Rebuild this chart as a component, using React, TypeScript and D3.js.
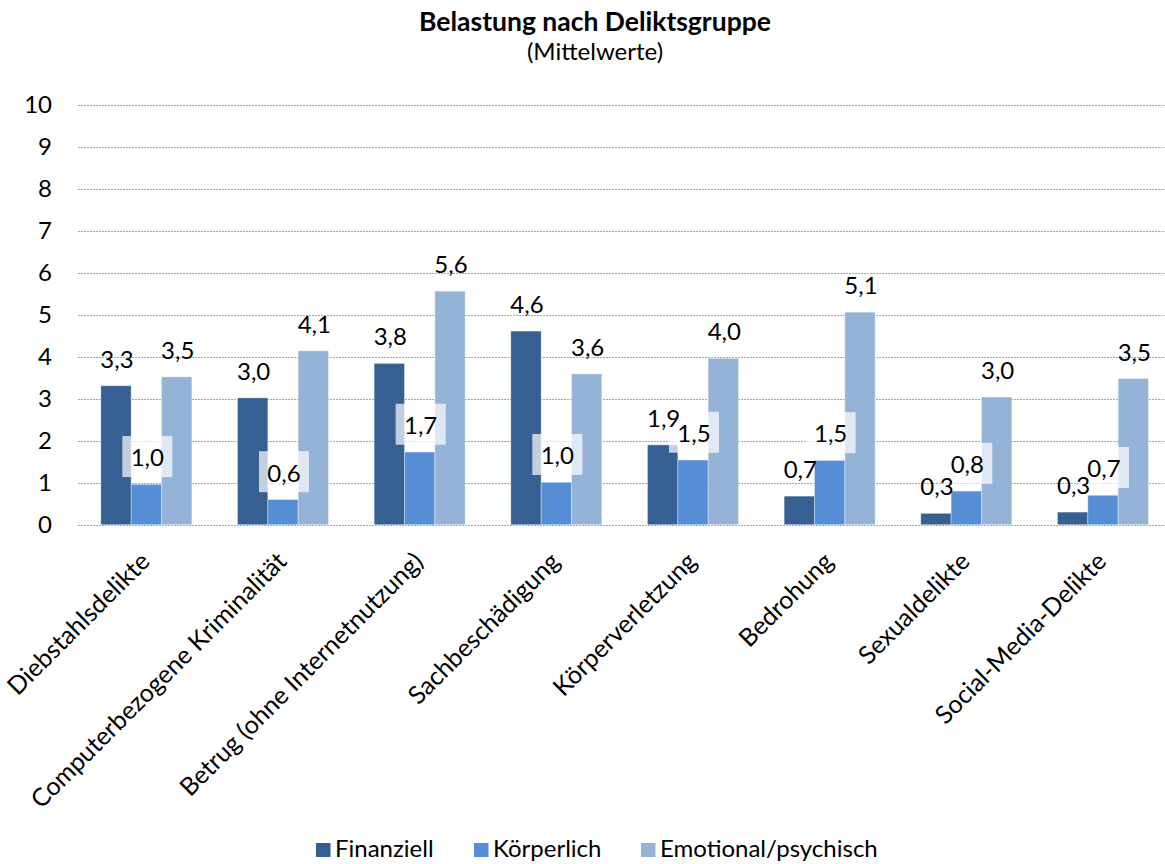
import React from "react";
import * as d3 from "d3";

const categories = [
  "Diebstahlsdelikte",
  "Computerbezogene Kriminalität",
  "Betrug (ohne Internetnutzung)",
  "Sachbeschädigung",
  "Körperverletzung",
  "Bedrohung",
  "Sexualdelikte",
  "Social-Media-Delikte",
];
const seriesNames = ["Finanziell", "Körperlich", "Emotional/psychisch"];
const finanziell = [3.31, 3.02, 3.84, 4.61, 1.9, 0.68, 0.27, 0.3];
const koerperlich = [0.96, 0.6, 1.73, 1.01, 1.54, 1.53, 0.8, 0.7];
const emotional = [3.52, 4.14, 5.56, 3.59, 3.96, 5.06, 3.04, 3.48];
const yTicks = [0, 1, 2, 3, 4, 5, 6, 7, 8, 9, 10];
const colors = ["#376092", "#558ED5", "#95B3D7"];
const title = "Belastung nach Deliktsgruppe";
const subtitle = "(Mittelwerte)";

const W = 1165;
const H = 864;
const FONT = "Lato, 'Open Sans', sans-serif";

const locale = d3.formatLocale({ decimal: ",", thousands: ".", grouping: [3], currency: ["", "€"] });
const fmt = locale.format(".1f");

export default function App() {
  const seriesValues = [finanziell, koerperlich, emotional];
  const x0 = d3
    .scaleBand<string>()
    .domain(categories)
    .range([78, 1171.3])
    .paddingInner(0.334)
    .paddingOuter(0.167);
  const x1 = d3.scaleBand<string>().domain(seriesNames).range([0, x0.bandwidth()]);
  const y = d3.scaleLinear().domain([0, 10]).range([524.7, 104.7]);

  const legendX = [316, 474, 641];

  const labelPos = (i: number, j: number) => {
    const c = categories[i];
    const s = seriesNames[j];
    const v = seriesValues[j][i];
    const cx = (x0(c) as number) + (x1(s) as number) + x1.bandwidth() / 2;
    return { cx, base: y(v) - 18, v };
  };

  return (
    <svg
      width={W}
      height={H}
      style={{ position: "absolute", left: 0, top: 0, background: "#fff" }}
      fontFamily={FONT}
    >
      <rect x={0} y={0} width={W} height={H} fill="#fff" />
      <text x={595} y={30.5} textAnchor="middle" fontWeight="bold" fontSize={26.5} fill="#000">
        {title}
      </text>
      <text x={595} y={60} textAnchor="middle" fontSize={24} fill="#000">
        {subtitle}
      </text>

      {yTicks.map((t) => (
        <g key={"t" + t}>
          <line
            x1={78}
            x2={W}
            y1={Math.round(y(t)) + 0.5}
            y2={Math.round(y(t)) + 0.5}
            stroke="#a6a6a6"
            strokeWidth={1}
            strokeDasharray="2,1"
          />
          <text x={52} y={y(t) + 8.5} textAnchor="end" fontSize={24} fill="#000">
            {t}
          </text>
        </g>
      ))}

      {categories.map((c, i) => (
        <g key={"c" + c} transform={`translate(${x0(c)},0)`}>
          {seriesNames.map((s, j) => {
            const v = seriesValues[j][i];
            return (
              <rect
                key={s}
                x={x1(s)}
                y={y(v)}
                width={x1.bandwidth()}
                height={y(0) - y(v)}
                fill={colors[j]}
                stroke="#ffffff"
                strokeOpacity={0.35}
                strokeWidth={1}
              />
            );
          })}
        </g>
      ))}

      {/* label backgrounds for the Körperlich series */}
      {categories.map((c, i) => {
        const { cx, base } = labelPos(i, 1);
        return (
          <rect
            key={"bg" + c}
            x={cx - 24}
            y={base - 30.3}
            width={50}
            height={41}
            fill="#fff"
            fillOpacity={0.7}
          />
        );
      })}

      {categories.map((c, i) => (
        <g key={"l" + c}>
          {seriesNames.map((s, j) => {
            const { cx, base, v } = labelPos(i, j);
            return (
              <text key={s} x={cx + 1} y={base} textAnchor="middle" fontSize={24} fill="#000">
                {fmt(v)}
              </text>
            );
          })}
        </g>
      ))}

      {categories.map((c) => {
        const cx = (x0(c) as number) + x0.bandwidth() / 2;
        return (
          <text
            key={"x" + c}
            transform={`translate(${cx + 5},563) rotate(-45)`}
            textAnchor="end"
            fontSize={25}
            fill="#000"
          >
            {c}
          </text>
        );
      })}

      {seriesNames.map((s, j) => (
        <g key={"lg" + s}>
          <rect x={legendX[j]} y={843} width={14.5} height={14} fill={colors[j]} />
          <text x={legendX[j] + 19} y={857} fontSize={24} fill="#000">
            {s}
          </text>
        </g>
      ))}
    </svg>
  );
}
